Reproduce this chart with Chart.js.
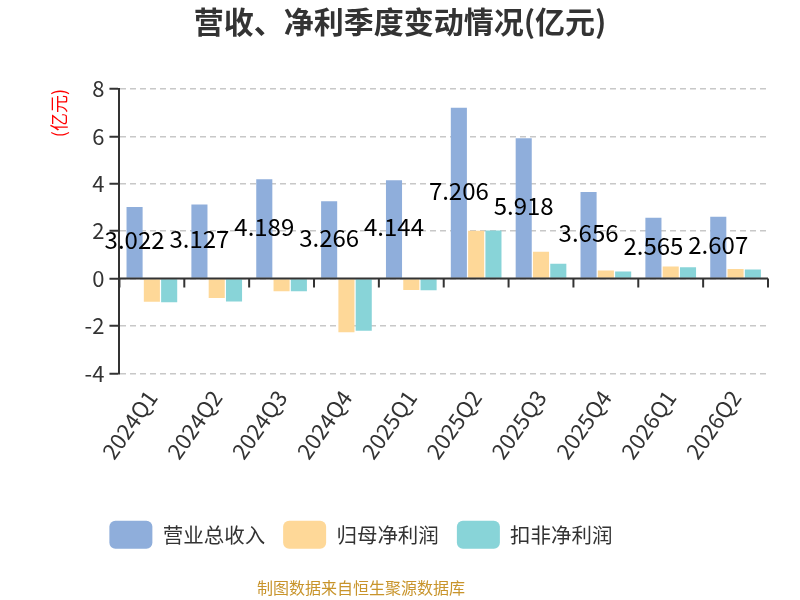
<!DOCTYPE html>
<html>
<head>
<meta charset="utf-8">
<script src="https://cdn.jsdelivr.net/npm/chart.js@4.4.1/dist/chart.umd.min.js"></script>
<style>
  html, body { margin: 0; padding: 0; background: #fff; }
  #wrap { width: 800px; height: 600px; }
</style>
</head>
<body>
<div id="wrap"><canvas id="chart" width="800" height="600"></canvas></div>
<script>
// quarters and values (亿元)
const quarters = ['2024Q1', '2024Q2', '2024Q3', '2024Q4', '2025Q1', '2025Q2', '2025Q3', '2025Q4', '2026Q1', '2026Q2'];
const revenue = [3.022, 3.127, 4.189, 3.266, 4.144, 7.206, 5.918, 3.656, 2.565, 2.607];
const netProfit = [-0.98, -0.82, -0.54, -2.27, -0.48, 2.02, 1.13, 0.34, 0.51, 0.40];
const netProfitDeducted = [-1.00, -0.97, -0.54, -2.20, -0.49, 2.03, 0.62, 0.30, 0.48, 0.38];
const yTicks = [-4, -2, 0, 2, 4, 6, 8];

const footerText = '制图数据来自恒生聚源数据库';

Chart.defaults.font.family = '"Noto Sans CJK SC", "Noto Sans", sans-serif';
Chart.defaults.color = '#333';

// value labels on the revenue bars, centred at half bar height
const valueLabels = {
  id: 'valueLabels',
  afterDatasetsDraw(chart) {
    const ctx = chart.ctx;
    const meta = chart.getDatasetMeta(0);
    ctx.save();
    ctx.font = '24px "Noto Sans CJK SC", sans-serif';
    ctx.fillStyle = '#000';
    ctx.textAlign = 'center';
    ctx.textBaseline = 'middle';
    meta.data.forEach((bar, i) => {
      const y = (bar.y + bar.base) / 2 - 2;
      ctx.fillText(revenue[i].toFixed(3), bar.x, y);
    });
    ctx.restore();
  }
};

// solid zero line with tick marks at category boundaries
const zeroAxis = {
  id: 'zeroAxis',
  afterDatasetsDraw(chart) {
    const { ctx, chartArea, scales: { x, y } } = chart;
    const y0 = y.getPixelForValue(0);
    const step = x.getPixelForTick(1) - x.getPixelForTick(0);
    ctx.save();
    ctx.strokeStyle = '#333';
    ctx.lineWidth = 2;
    ctx.beginPath();
    ctx.moveTo(chartArea.left, y0);
    ctx.lineTo(chartArea.right, y0);
    for (let i = 0; i <= quarters.length; i++) {
      const px = x.getPixelForTick(0) - step / 2 + i * step;
      ctx.moveTo(px, y0);
      ctx.lineTo(px, y0 + 9);
    }
    ctx.stroke();
    ctx.restore();
  }
};

// title centred on the page, legend and footer a bit left of centre
const shiftBoxes = {
  id: 'shiftBoxes',
  afterLayout(chart) {
    const move = (b, dx) => { if (b) { b.left += dx; b.right += dx; } };
    move(chart.titleBlock, -6);
    move(chart.legend, -45);
    move(chart.boxes.find(b => b.options && b.options.text === footerText), -45);
  }
};

new Chart(document.getElementById('chart'), {
  type: 'bar',
  data: {
    labels: quarters,
    datasets: [
      { label: '营业总收入', data: revenue, backgroundColor: '#8faedb' },
      { label: '归母净利润', data: netProfit, backgroundColor: '#fed898' },
      { label: '扣非净利润', data: netProfitDeducted, backgroundColor: '#88d4d8' }
    ]
  },
  options: {
    responsive: false,
    animation: false,
    layout: { padding: { left: 44, right: 32, top: 0, bottom: 0 } },
    datasets: {
      bar: { categoryPercentage: 0.8, barPercentage: 0.93, borderWidth: 0 }
    },
    plugins: {
      title: {
        display: true,
        text: '营收、净利季度变动情况(亿元)',
        color: '#333',
        font: { size: 30, weight: 'bold' },
        padding: { top: 4, bottom: 49 }
      },
      subtitle: {
        display: true,
        position: 'bottom',
        text: footerText,
        color: '#c8942b',
        font: { size: 16 },
        padding: { top: 20, bottom: 2 }
      },
      legend: {
        position: 'bottom',
        labels: {
          boxWidth: 43,
          boxHeight: 28,
          useBorderRadius: true,
          borderRadius: 6,
          padding: 18,
          color: '#333',
          font: { size: 20.5 }
        }
      },
      tooltip: { enabled: false }
    },
    scales: {
      x: {
        offset: true,
        grid: { display: false },
        border: { display: false },
        afterFit(scale) {
          scale.height += 35;
        },
        ticks: {
          autoSkip: false,
          minRotation: 55,
          maxRotation: 55,
          padding: 4,
          color: '#333',
          font: { size: 22 }
        }
      },
      y: {
        min: yTicks[0],
        max: yTicks[yTicks.length - 1],
        afterBuildTicks(scale) {
          scale.ticks = yTicks.map(v => ({ value: v }));
        },
        title: {
          display: true,
          text: '(亿元)',
          align: 'end',
          color: '#ff0000',
          font: { size: 18 },
          padding: { top: 4, bottom: 10 }
        },
        grid: {
          color: '#c8c8c8',
          lineWidth: 1.5,
          tickColor: '#333',
          tickWidth: 2,
          tickLength: 10,
          tickBorderDash: []
        },
        border: { display: true, color: '#333', width: 2, dash: [6, 4] },
        ticks: {
          padding: 5,
          color: '#333',
          font: { size: 22 }
        }
      }
    }
  },
  plugins: [valueLabels, zeroAxis, shiftBoxes]
});
</script>
</body>
</html>
